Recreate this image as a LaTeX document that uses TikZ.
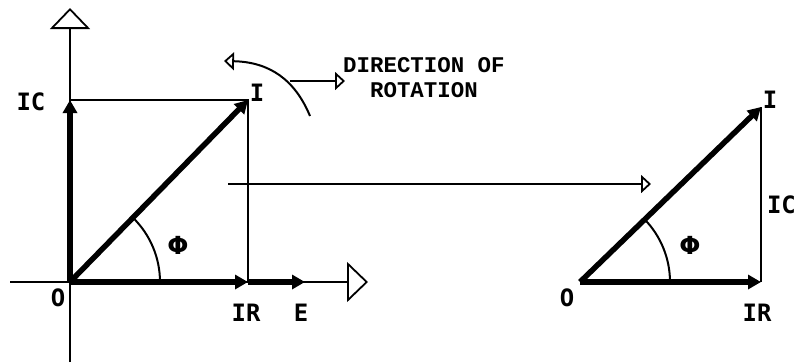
\documentclass[tikz,border=0pt]{standalone}
\usepackage{fontspec}
\setmainfont{DejaVu Sans}
\newfontfamily\lblfont{DejaVu Sans Mono}
\newfontfamily\txtfont{Liberation Mono}
\usetikzlibrary{arrows.meta}
\begin{document}
\begin{tikzpicture}[x=1bp,y=-1bp,
  thin line/.style={line width=2bp},
  vec/.style={line width=5.5bp,-{Triangle[length=13bp,width=14bp]}},
  axis/.style={line width=2bp,-{Triangle[open,length=21bp,width=40bp,line width=1.8bp]}},
  small open/.style={line width=2bp,-{Triangle[open,length=10bp,width=18bp,line width=1.8bp]}},
  lbl/.style={font=\lblfont\bfseries\fontsize{24}{24}\selectfont,inner sep=0pt},
  txt/.style={font=\txtfont\bfseries\fontsize{22.5}{25}\selectfont,inner sep=0pt,align=center},
  phi/.style={font=\bfseries\fontsize{25}{25}\selectfont,inner sep=0pt}]
\useasboundingbox (0,0) rectangle (797,363);
% left diagram
\coordinate (O) at (70,282);
\coordinate (IC) at (70,100);
\coordinate (I) at (248,100);
\coordinate (IR) at (248,282);
\coordinate (E) at (305,282);
\coordinate (ybot) at (70,362);
\coordinate (ytop) at (70,8);
\coordinate (xl) at (10,282);
\coordinate (xr) at (368,282);
\draw[axis] (ybot) -- (ytop);
\draw[axis] (xl) -- (xr);
\draw[thin line] (IC) -- (I) -- (IR);
\draw[vec] (O) -- (IC);
\draw[vec] (O) -- (I);
\draw[vec] (O) -- (IR);
\draw[vec] (IR) -- (E);
\draw[thin line] (160,282) arc[start angle=0,end angle=-45.6,radius=90];
\node[lbl] (lO) at (58,298) {O};
\node[lbl] (lIC) at (31,102) {IC};
\node[lbl] (lI) at (257,93) {I};
\node[lbl] (lIR) at (246,313) {IR};
\node[lbl] (lE) at (301,313) {E};
\node[phi] (lphi) at (178,245) {Φ};
% direction of rotation
\coordinate (rs) at (310,116);
\coordinate (re) at (224,61);
\draw[small open] (rs) .. controls (295,80) and (270,62) .. (re);
\coordinate (hs) at (290,81);
\coordinate (he) at (345,81);
\draw[small open] (hs) -- (he);
\node[txt,anchor=north west] (dir) at (343,57) {DIRECTION OF\\ROTATION};
% middle arrow
\coordinate (ms) at (228,184);
\coordinate (me) at (651,184);
\draw[small open] (ms) -- (me);
% right diagram
\coordinate (O2) at (580,282);
\coordinate (I2) at (761,107);
\coordinate (IR2) at (761,282);
\draw[thin line] (I2) -- (IR2);
\draw[vec] (O2) -- (I2);
\draw[vec] (O2) -- (IR2);
\draw[thin line] (670,282) arc[start angle=0,end angle=-44,radius=90];
\node[lbl] (rO) at (567,298) {O};
\node[lbl] (rI) at (770,100) {I};
\node[lbl] (rIR) at (757,313) {IR};
\node[lbl,anchor=east] (rIC) at (796,205) {IC};
\node[phi] (rphi) at (690,245) {Φ};
\end{tikzpicture}
\end{document}
